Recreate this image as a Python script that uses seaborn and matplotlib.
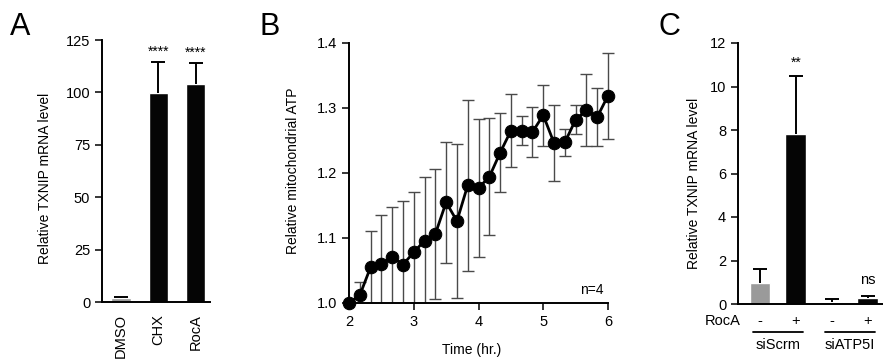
import matplotlib
matplotlib.use("Agg")
import matplotlib.pyplot as plt
import matplotlib.transforms as mtransforms
import matplotlib.patches as mpatches
import seaborn as sns
import pandas as pd

# ---------------- data ----------------
A_categories = ["DMSO", "CHX", "RocA"]
A_means = [1.8, 99.8, 104.0]
A_errs = [0.6, 14.5, 10.0]
A_signif = ["", "****", "****"]

B_time = [2.0, 2.167, 2.333, 2.5, 2.667, 2.833, 3.0, 3.167, 3.333, 3.5,
          3.667, 3.833, 4.0, 4.167, 4.333, 4.5, 4.667, 4.833, 5.0, 5.167,
          5.333, 5.5, 5.667, 5.833, 6.0]
B_means = [1.000, 1.012, 1.055, 1.060, 1.071, 1.059, 1.078, 1.096, 1.106, 1.155,
           1.126, 1.181, 1.177, 1.194, 1.231, 1.265, 1.265, 1.263, 1.289, 1.246,
           1.247, 1.282, 1.297, 1.286, 1.319]
B_errs = [0.0, 0.020, 0.056, 0.076, 0.076, 0.098, 0.093, 0.098, 0.100, 0.093,
          0.118, 0.132, 0.106, 0.090, 0.061, 0.056, 0.022, 0.039, 0.047, 0.058,
          0.021, 0.022, 0.055, 0.045, 0.066]

C_keys = ["siScrm_-", "siScrm_+", "siATP5I_-", "siATP5I_+"]
C_rocA = ["-", "+", "-", "+"]
C_groups = ["siScrm", "siATP5I"]
C_means = [0.97, 7.83, 0.08, 0.26]
C_errs = [0.63, 2.65, 0.14, 0.11]
C_signif = ["", "**", "", "ns"]

GRAY = "#9a9a9a"
BLACK = "#050505"
A_colors = [GRAY, BLACK, BLACK]
C_colors = [GRAY, BLACK, GRAY, BLACK]

# ---------------- style ----------------
sns.set_theme(style="ticks")
plt.rcParams["font.family"] = ["Liberation Sans", "DejaVu Sans"]
plt.rcParams.update({
    "axes.linewidth": 1.4,
    "xtick.major.width": 1.1,
    "ytick.major.width": 1.1,
    "xtick.major.size": 5,
    "ytick.major.size": 5,
    "xtick.labelsize": 10.5,
    "ytick.labelsize": 10.5,
    "axes.labelsize": 10,
    "xtick.color": "black",
    "ytick.color": "black",
    "axes.edgecolor": "black",
    "text.color": "black",
    "axes.labelcolor": "black",
})

W, H = 883, 362
fig = plt.figure(figsize=(W / 100, H / 100), dpi=100)


def px_axes(left, right, top, bottom):
    return fig.add_axes([left / W, 1 - bottom / H, (right - left) / W, (bottom - top) / H])


def upper_errorbars(ax, means, errs):
    cont = ax.errorbar(range(len(means)), means, yerr=[[0] * len(errs), errs],
                       fmt="none", ecolor="black", elinewidth=1.4, capsize=5,
                       capthick=1.4, zorder=3)
    caps = cont[1]
    if len(caps) == 2:
        caps[0].set_visible(False)
    return cont


# ---------------- Panel A ----------------
axA = px_axes(102, 210, 40, 302)
dfA = pd.DataFrame({"cat": A_categories, "val": A_means})
sns.barplot(data=dfA, x="cat", y="val", hue="cat", palette=A_colors, order=A_categories,
            legend=False, errorbar=None, width=0.52, saturation=1, ax=axA)
upper_errorbars(axA, A_means, A_errs)
for i, s in enumerate(A_signif):
    if s:
        axA.text(i, A_means[i] + A_errs[i] + 5.0, s, ha="center", va="center", fontsize=10)
axA.set_ylim(0, 125)
axA.set_yticks([0, 25, 50, 75, 100, 125])
axA.set_xlim(-0.5, 2.38)
axA.set_xlabel("")
axA.set_ylabel("Relative TXNIP mRNA level")
axA.yaxis.set_label_coords(-0.463, 0.473)
axA.tick_params(axis="x", length=0, pad=9, labelrotation=90)
sns.despine(ax=axA)

# ---------------- Panel B ----------------
axB = px_axes(349, 608, 43, 303)
dfB = pd.DataFrame({"time": B_time, "atp": B_means})
ebB = axB.errorbar(B_time, B_means, yerr=B_errs, fmt="none", ecolor="#4a4a4a",
                   elinewidth=1.0, capsize=4, capthick=1.0, zorder=2)
clip_rect = mpatches.Rectangle((-0.05, 0.0), 1.1, 1.2, transform=axB.transAxes,
                               facecolor="none", edgecolor="none")
axB.add_patch(clip_rect)
for art in list(ebB[1]) + list(ebB[2]):
    art.set_clip_path(clip_rect)
n_before = len(axB.get_lines())
sns.lineplot(data=dfB, x="time", y="atp", color="black", linewidth=2,
             marker="o", markersize=9, markeredgecolor="black", markerfacecolor="black",
             ax=axB, zorder=3)
for ln in axB.get_lines()[n_before:]:
    ln.set_clip_on(False)
axB.set_xlim(2, 6)
axB.set_ylim(1.0, 1.4)
axB.set_xticks([2, 3, 4, 5, 6])
axB.set_yticks([1.0, 1.1, 1.2, 1.3, 1.4])
axB.set_yticklabels(["1.0", "1.1", "1.2", "1.3", "1.4"])
axB.set_xlabel("Time (hr.)")
axB.set_ylabel("Relative mitochondrial ATP")
axB.yaxis.set_label_coords(-0.189, 0.51)
axB.xaxis.set_label_coords(0.475, -0.154)
axB.text(5.75, 1.02, "n=4", ha="center", va="center", fontsize=10)
sns.despine(ax=axB)

# ---------------- Panel C ----------------
axC = px_axes(738, 883, 43, 304)
dfC = pd.DataFrame({"key": C_keys, "val": C_means})
sns.barplot(data=dfC, x="key", y="val", hue="key", palette=C_colors, order=C_keys,
            legend=False, errorbar=None, width=0.58, saturation=1, ax=axC)
upper_errorbars(axC, C_means, C_errs)
for i, s in enumerate(C_signif):
    if s == "**":
        axC.text(i, C_means[i] + C_errs[i] + 0.62, s, ha="center", va="center", fontsize=10)
    elif s:
        axC.text(i, C_means[i] + C_errs[i] + 0.72, s, ha="center", va="center", fontsize=10.5)
axC.set_ylim(0, 12)
axC.set_yticks([0, 2, 4, 6, 8, 10, 12])
axC.set_xlim(-0.61, 3.42)
axC.set_xticks([])
axC.set_xlabel("")
axC.set_ylabel("Relative TXNIP mRNA level")
axC.yaxis.set_label_coords(-0.255, 0.464)
sns.despine(ax=axC)

trC = mtransforms.blended_transform_factory(axC.transData, axC.transAxes)
axC.text(-1.04, -0.065, "RocA", transform=trC, ha="center", va="center", fontsize=10.5, clip_on=False)
for i, r in enumerate(C_rocA):
    axC.text(i, -0.065, r, transform=trC, ha="center", va="center", fontsize=10.5, clip_on=False)
for g, name in enumerate(C_groups):
    x0, x1 = 2 * g - 0.2, 2 * g + 1.2
    axC.plot([x0, x1], [-0.106, -0.106], transform=trC, color="black", lw=1.3, clip_on=False)
    axC.text(2 * g + 0.5, -0.158, name, transform=trC, ha="center", va="center",
             fontsize=10.5, clip_on=False)

# ---------------- panel letters ----------------
for letter, x in [("A", 10), ("B", 260), ("C", 658)]:
    fig.text(x / W, 1 - 35 / H, letter, fontsize=22, ha="left", va="baseline")

fig.savefig("out.png", dpi=100)
